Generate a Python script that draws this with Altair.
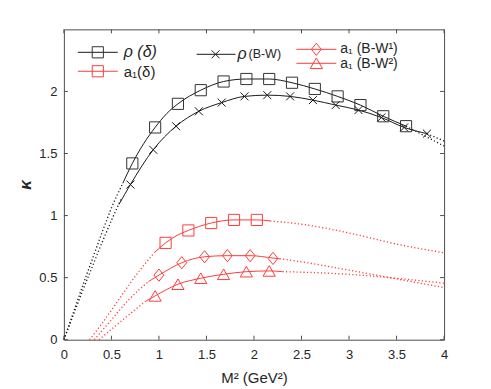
import altair as alt
import pandas as pd

# ---------------- data ----------------
# rho (delta): squares
rho_d_x = [0.72, 0.96, 1.20, 1.44, 1.68, 1.92, 2.16, 2.40, 2.64, 2.88, 3.12, 3.36, 3.60]
rho_d_y = [1.42, 1.71, 1.90, 2.01, 2.08, 2.10, 2.10, 2.07, 2.02, 1.96, 1.89, 1.80, 1.72]
rho_d_solid_x = [0.62, 0.72, 0.84, 0.96, 1.08, 1.20, 1.44, 1.68, 1.92, 2.16, 2.40, 2.64, 2.88, 3.12, 3.36, 3.60]
rho_d_solid_y = [1.26, 1.42, 1.58, 1.71, 1.82, 1.90, 2.01, 2.08, 2.10, 2.10, 2.07, 2.02, 1.96, 1.89, 1.80, 1.72]
rho_d_dotL_x = [0.0, 0.1, 0.2, 0.3, 0.4, 0.5, 0.62]
rho_d_dotL_y = [0.0, 0.22, 0.44, 0.65, 0.86, 1.06, 1.26]
rho_d_dotR_x = [3.60, 3.80, 4.00]
rho_d_dotR_y = [1.72, 1.64, 1.56]

# rho (B-W): crosses
rho_bw_x = [0.70, 0.94, 1.18, 1.42, 1.66, 1.90, 2.14, 2.38, 2.62, 2.86, 3.10, 3.34, 3.58, 3.82]
rho_bw_y = [1.25, 1.53, 1.72, 1.84, 1.91, 1.96, 1.97, 1.96, 1.93, 1.89, 1.85, 1.79, 1.71, 1.66]
rho_bw_solid_x = [0.58, 0.70, 0.94, 1.18, 1.42, 1.66, 1.90, 2.14, 2.38, 2.62, 2.86, 3.10, 3.34, 3.58, 3.82]
rho_bw_solid_y = [1.09, 1.25, 1.53, 1.72, 1.84, 1.91, 1.96, 1.97, 1.96, 1.93, 1.89, 1.85, 1.79, 1.71, 1.66]
rho_bw_dotL_x = [0.0, 0.1, 0.2, 0.3, 0.4, 0.5, 0.6]
rho_bw_dotL_y = [0.0, 0.20, 0.40, 0.59, 0.78, 0.96, 1.13]
rho_bw_dotR_x = [3.82, 4.00]
rho_bw_dotR_y = [1.66, 1.60]

# a1 (delta): squares
a1_d_x = [1.07, 1.31, 1.55, 1.79, 2.03]
a1_d_y = [0.78, 0.88, 0.94, 0.965, 0.965]
a1_d_solid_x = [0.95, 1.07, 1.19, 1.31, 1.55, 1.79, 2.03, 2.17]
a1_d_solid_y = [0.70, 0.78, 0.84, 0.88, 0.94, 0.965, 0.965, 0.957]
a1_d_dotL_x = [0.27, 0.40, 0.575, 0.75, 0.95]
a1_d_dotL_y = [0.0, 0.13, 0.32, 0.51, 0.70]
a1_d_dotR_x = [2.17, 2.50, 3.00, 3.50, 4.00]
a1_d_dotR_y = [0.957, 0.93, 0.86, 0.77, 0.70]

# a1 (B-W1): diamonds
a1_bw1_x = [1.00, 1.24, 1.48, 1.72, 1.96, 2.20]
a1_bw1_y = [0.52, 0.62, 0.668, 0.677, 0.677, 0.655]
a1_bw1_solid_x = [0.89, 1.00, 1.24, 1.48, 1.72, 1.96, 2.20, 2.27]
a1_bw1_solid_y = [0.468, 0.52, 0.62, 0.668, 0.677, 0.677, 0.658, 0.652]
a1_bw1_dotL_x = [0.32, 0.50, 0.68, 0.89]
a1_bw1_dotL_y = [0.0, 0.16, 0.32, 0.468]
a1_bw1_dotR_x = [2.27, 2.60, 3.00, 3.50, 4.00]
a1_bw1_dotR_y = [0.652, 0.615, 0.56, 0.49, 0.42]

# a1 (B-W2): triangles
a1_bw2_x = [0.96, 1.20, 1.44, 1.68, 1.92, 2.16]
a1_bw2_y = [0.353, 0.447, 0.495, 0.527, 0.548, 0.554]
a1_bw2_solid_x = [0.855, 0.96, 1.20, 1.44, 1.68, 1.92, 2.16, 2.30]
a1_bw2_solid_y = [0.307, 0.353, 0.447, 0.495, 0.527, 0.548, 0.554, 0.548]
a1_bw2_dotL_x = [0.37, 0.62, 0.855]
a1_bw2_dotL_y = [0.0, 0.16, 0.307]
a1_bw2_dotR_x = [2.30, 2.80, 3.20, 3.60, 4.00]
a1_bw2_dotR_y = [0.548, 0.535, 0.515, 0.487, 0.455]

x_ticks = [0, 0.5, 1, 1.5, 2, 2.5, 3, 3.5, 4]
y_ticks = [0, 0.5, 1, 1.5, 2]

# ---------------- styling ----------------
W, H = 381, 311
BLACK = "#1a1a1a"
MARK_BLACK = "#333333"
RED = "#ff3c3c"
FRAME = "#4d4d4d"
TXT = "#262626"
FONT = "Liberation Sans"
CROSS = "M-1,-1L1,1M-1,1L1,-1"
DIAMOND = "M0,-1L0.8,0L0,1L-0.8,0Z"


def seg(name, color, xs, ys):
    return pd.DataFrame({"x": xs, "y": ys, "seg": name, "col": color})


solid_df = pd.concat([
    seg("rho_d", BLACK, rho_d_solid_x, rho_d_solid_y),
    seg("rho_bw", BLACK, rho_bw_solid_x, rho_bw_solid_y),
    seg("a1_d", RED, a1_d_solid_x, a1_d_solid_y),
    seg("a1_bw1", RED, a1_bw1_solid_x, a1_bw1_solid_y),
    seg("a1_bw2", RED, a1_bw2_solid_x, a1_bw2_solid_y),
])
dotted_df = pd.concat([
    seg("rho_d_L", BLACK, rho_d_dotL_x, rho_d_dotL_y),
    seg("rho_d_R", BLACK, rho_d_dotR_x, rho_d_dotR_y),
    seg("rho_bw_L", BLACK, rho_bw_dotL_x, rho_bw_dotL_y),
    seg("rho_bw_R", BLACK, rho_bw_dotR_x, rho_bw_dotR_y),
    seg("a1_d_L", RED, a1_d_dotL_x, a1_d_dotL_y),
    seg("a1_d_R", RED, a1_d_dotR_x, a1_d_dotR_y),
    seg("a1_bw1_L", RED, a1_bw1_dotL_x, a1_bw1_dotL_y),
    seg("a1_bw1_R", RED, a1_bw1_dotR_x, a1_bw1_dotR_y),
    seg("a1_bw2_L", RED, a1_bw2_dotL_x, a1_bw2_dotL_y),
    seg("a1_bw2_R", RED, a1_bw2_dotR_x, a1_bw2_dotR_y),
])

sq_df = pd.concat([
    pd.DataFrame({"x": rho_d_x, "y": rho_d_y, "col": MARK_BLACK}),
    pd.DataFrame({"x": a1_d_x, "y": a1_d_y, "col": RED}),
])
cross_df = pd.DataFrame({"x": rho_bw_x, "y": rho_bw_y})
dia_df = pd.DataFrame({"x": a1_bw1_x, "y": a1_bw1_y})
tri_df = pd.DataFrame({"x": a1_bw2_x, "y": a1_bw2_y})

X = alt.X(
    "x:Q",
    scale=alt.Scale(domain=[0, 4], nice=False, zero=False),
    axis=alt.Axis(
        values=x_ticks, format="~g", grid=False, ticks=False, domain=False,
        labelPadding=9, labelFlush=False, labelOverlap=False,
        labelFontSize=13, labelColor=TXT, labelFont=FONT,
        title="M² (GeV²)", titleFontSize=15, titleFont=FONT, titleColor=TXT,
        titleFontWeight="normal", titleX=W / 2, titleY=43,
        titleBaseline="alphabetic", titleAlign="center",
    ),
)
Y = alt.Y(
    "y:Q",
    scale=alt.Scale(domain=[0, 2.5], nice=False, zero=False),
    axis=alt.Axis(
        values=y_ticks, format="~g", grid=False, ticks=False, domain=False,
        labelPadding=7, labelFlush=False, labelOverlap=False,
        labelFontSize=13, labelColor=TXT, labelFont=FONT,
        title="κ", titleFontSize=17, titleFont=FONT, titleColor=TXT,
        titleFontWeight="bold", titleFontStyle="italic",
        titleX=-33, titleY=H / 2, titleAngle=270,
        titleBaseline="alphabetic", titleAlign="center",
    ),
)

solid = alt.Chart(solid_df).mark_line(strokeWidth=1, interpolate="monotone").encode(
    x=X, y=Y, detail="seg:N", color=alt.Color("col:N", scale=None)
)
dotted = alt.Chart(dotted_df).mark_line(
    strokeWidth=1.3, strokeDash=[1.2, 2.3], interpolate="monotone"
).encode(x=X, y=Y, detail="seg:N", color=alt.Color("col:N", scale=None))

squares = alt.Chart(sq_df).mark_point(
    shape="square", size=125, filled=False, strokeWidth=1, opacity=1
).encode(x=X, y=Y, color=alt.Color("col:N", scale=None))
crosses = alt.Chart(cross_df).mark_point(
    shape=CROSS, size=64, filled=False, strokeWidth=1, opacity=1, color=BLACK
).encode(x=X, y=Y)
diamonds = alt.Chart(dia_df).mark_point(
    shape=DIAMOND, size=150, filled=False, strokeWidth=1, opacity=1, color=RED
).encode(x=X, y=Y)
triangles = alt.Chart(tri_df).mark_point(
    shape="triangle-up", size=150, filled=False, strokeWidth=1, opacity=1, color=RED
).encode(x=X, y=Y)

# inward tick marks on all four sides
xt = pd.DataFrame({"x": x_ticks})
yt = pd.DataFrame({"y": y_ticks})
tick_layers = [
    alt.Chart(xt).mark_rule(color=FRAME, strokeWidth=1).encode(x=X, y=alt.value(H), y2=alt.value(H - 4)),
    alt.Chart(xt).mark_rule(color=FRAME, strokeWidth=1).encode(x=X, y=alt.value(0), y2=alt.value(4)),
    alt.Chart(yt).mark_rule(color=FRAME, strokeWidth=1).encode(y=Y, x=alt.value(0), x2=alt.value(4)),
    alt.Chart(yt).mark_rule(color=FRAME, strokeWidth=1).encode(y=Y, x=alt.value(W), x2=alt.value(W - 4)),
]

# ---------------- legend (drawn in plot pixel space) ----------------
one = alt.Data(values=[{"k": 1}])


def leg_line(x1, x2, y, color):
    return alt.Chart(one).mark_rule(color=color, strokeWidth=1).encode(
        x=alt.value(x1), x2=alt.value(x2), y=alt.value(y)
    )


def leg_sym(x, y, shape, size, color):
    return alt.Chart(one).mark_point(
        shape=shape, size=size, filled=False, strokeWidth=1, opacity=1, color=color
    ).encode(x=alt.value(x), y=alt.value(y))


def leg_text(x, y, txt, size, style="normal"):
    return alt.Chart(one).mark_text(
        text=txt, fontSize=size, font=FONT, fontStyle=style, color=TXT,
        align="left", baseline="middle"
    ).encode(x=alt.value(x), y=alt.value(y))


legend = [
    leg_line(14, 54, 23, BLACK), leg_sym(34, 23, "square", 125, MARK_BLACK),
    leg_text(60, 23, "ρ (δ)", 16, "italic"),
    leg_line(14, 54, 42, RED), leg_sym(34, 42, "square", 125, RED),
    leg_text(60, 43, "a₁(δ)", 15),
    leg_line(133, 172, 25, BLACK), leg_sym(152, 25, CROSS, 64, BLACK),
    leg_text(174, 25, "ρ", 16, "italic"), leg_text(185, 25, "(B-W)", 12.5),
    leg_line(233, 273, 20, RED), leg_sym(253, 20, DIAMOND, 150, RED),
    leg_text(277, 20, "a₁ (B-W¹)", 14),
    leg_line(233, 273, 34, RED), leg_sym(253, 34, "triangle-up", 150, RED),
    leg_text(277, 35, "a₁ (B-W²)", 14),
]

chart = alt.layer(
    dotted, solid, squares, crosses, diamonds, triangles, *tick_layers, *legend
).properties(
    width=W, height=H,
    padding={"left": 56, "top": 21, "right": 39, "bottom": 49},
    autosize=alt.AutoSizeParams(type="none"),
).configure_view(stroke=FRAME, strokeWidth=1)

chart.save("out.html", embed_options={"renderer": "svg", "actions": False})
